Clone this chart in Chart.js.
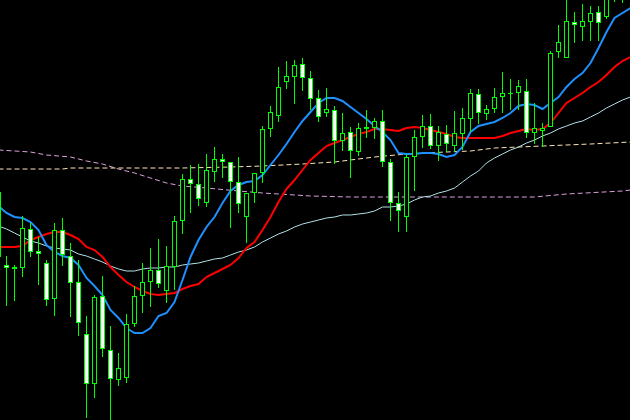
<!DOCTYPE html>
<html>
<head>
<meta charset="utf-8">
<script src="https://cdn.jsdelivr.net/npm/chart.js@4/dist/chart.umd.min.js"></script>
<style>
  html, body { margin: 0; padding: 0; background: #000; overflow: hidden; }
  canvas { display: block; }
</style>
</head>
<body>
<canvas id="grafico" width="630" height="420"></canvas>
<script>
// velas: la primera (indice -1) queda cortada en el borde izquierdo
const primeraVela = -1;

const aperturas = [163,155,153,152,191,169,157,121,190,164,138,86,36,124,70,40,42,96,124,138,150,129,153,199,241,236,217,248,261,258,238,203,227,247,291,304,338,343,356,342,322,307,310,279,288,268,291,292,299,258,217,203,263,283,294,274,286,274,286,301,326,306,311,323,326,327,329,287,289,293,368,362,398,393,398,408,403,425,428];
const maximos  = [235,164,155,204,197,183,160,197,202,177,160,104,125,144,94,67,106,134,157,172,181,174,204,246,255,256,266,273,266,258,263,227,247,294,314,353,359,360,362,349,330,332,314,307,293,297,310,302,310,261,228,266,290,305,306,294,295,309,312,331,331,315,332,348,341,340,341,317,297,369,395,425,408,416,414,414,440,445,445];
const minimos  = [160,114,119,143,163,135,114,104,154,103,84,2,22,63,-5,34,37,93,107,113,132,117,130,186,207,214,213,238,242,192,207,177,217,237,283,298,331,316,329,310,298,303,256,269,242,264,282,281,253,199,188,188,229,272,271,259,268,268,270,288,296,300,307,307,310,310,282,276,273,293,362,362,377,379,379,379,401,418,417];
const cierres  = [228,152,151,192,168,166,120,190,165,137,97,36,123,71,41,52,96,124,138,150,136,154,199,241,236,221,250,261,258,238,216,227,247,291,308,333,344,355,342,321,303,311,279,287,269,292,293,299,258,217,209,263,283,294,274,288,276,287,302,327,307,311,323,327,327,334,287,292,292,367,378,399,395,399,407,397,430,440,440];

// medias moviles, un valor por vela desde el indice -1 hasta 78
const mediaRapida = [214,207,203,202,198,190,175,168,164,162,155,142,134,125,110,102,92,87,87,92,104,107,118,140,163,180,193,203,217,229,235,238,239,245,255,265,276,288,299,308,317,322,322,319,313,307,301,294,288,280,267,266,266,267,267,266,263,265,273,288,294,296,298,302,307,314,316,315,311,317,323,333,341,347,357,372,388,402,407,412];
const mediaMedia  = [173,173,173,174,180,183,186,188,188,185,181,173,170,163,153,145,138,133,129,126,125,126,127,131,134,136,143,147,151,155,162,172,178,190,203,218,231,240,250,260,267,274,277,280,283,286,288,291,291,290,289,292,293,292,290,288,286,283,282,282,282,282,282,284,287,289,291,290,291,297,307,317,322,327,333,338,345,353,359,363];
const mediaLenta  = [194,191,187,183,179,177,174,172,171,170,166,164,161,158,154,151,149,149,151,152,152,153,153,155,156,157,159,161,162,165,168,170,173,178,182,186,189,193,196,198,200,202,203,205,205,206,207,209,213,213,214,216,220,223,224,227,229,232,238,244,249,257,262,266,270,273,277,280,284,287,291,294,297,299,303,307,312,316,320,323];

// lineas punteadas (vela, valor)
const durazVelas   = [-1,7,8,22,28,32,37,41,46,50,52,58,61,64,67,73,78];
const durazValores = [251,251,252,252,253,254,256,258,263,266,267,269,272,273,274,276,278];
const rosaVelas    = [-1,3,5,8,10,12,14,16,18,20,22,25,29,32,38,43,58,66,70,77,78];
const rosaValores  = [270,268,265,263,259,256,251,247,242,237,234,232,229,227,224,223,223,223,226,229,230];

const VERDE = '#00ff00';

const cuerpos = aperturas.map((o, i) => ({ x: i + primeraVela, y: [o, cierres[i]] }));
const mechas = aperturas.map((o, i) => ({ x: i + primeraVela, y: [minimos[i], maximos[i]] }));
const rellenos = aperturas.map((o, i) => cierres[i] >= o ? '#000000' : '#ffffff');

function serie(valores) {
    return valores.map((v, i) => ({ x: i + primeraVela, y: v }));
}
function puntos(velas, valores) {
    return velas.map((k, i) => ({ x: k, y: valores[i] }));
}

function linea(data, color, ancho, guiones, orden) {
    return {
        type: 'line',
        data: data,
        borderColor: color,
        borderWidth: ancho,
        borderDash: guiones,
        pointRadius: 0,
        tension: 0,
        fill: false,
        order: orden
    };
}

new Chart(document.getElementById('grafico'), {
    type: 'bar',
    data: {
        datasets: [
            {
                data: cuerpos,
                backgroundColor: rellenos,
                borderColor: VERDE,
                borderWidth: 1,
                borderSkipped: false,
                barThickness: 5,
                grouped: false,
                inflateAmount: 0,
                order: 0
            },
            {
                data: mechas,
                backgroundColor: VERDE,
                borderWidth: 0,
                barThickness: 1,
                grouped: false,
                inflateAmount: 0,
                order: 1
            },
            linea(serie(mediaRapida), '#1e90ff', 2, [], 2),
            linea(serie(mediaMedia), '#ff0000', 2, [], 3),
            linea(serie(mediaLenta), '#b0e0e6', 1, [], 4),
            linea(puntos(durazVelas, durazValores), '#ffe4b5', 1, [5, 3], 5),
            linea(puntos(rosaVelas, rosaValores), '#dda0dd', 1, [5, 3], 6)
        ]
    },
    options: {
        responsive: false,
        animation: false,
        devicePixelRatio: 1,
        layout: { padding: 0 },
        plugins: { legend: { display: false }, tooltip: { enabled: false } },
        scales: {
            x: { type: 'linear', min: -0.8125, max: 77.9375, offset: false, display: false },
            y: { min: 0, max: 420, display: false }
        }
    }
});
</script>
</body>
</html>
